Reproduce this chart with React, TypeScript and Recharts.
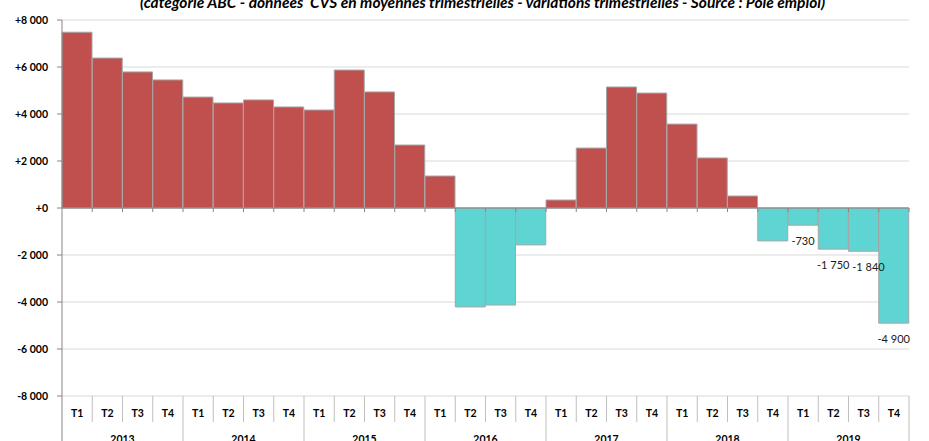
import { BarChart, Bar, XAxis, YAxis, CartesianGrid, ReferenceLine, Cell, LabelList } from 'recharts'

const years = ['2013', '2014', '2015', '2016', '2017', '2018', '2019']
const quarters = ['T1', 'T2', 'T3', 'T4']
// variations trimestrielles, 2013 T1 -> 2019 T4
const variations = [
  7480, 6380, 5790, 5450,
  4720, 4470, 4600, 4300,
  4170, 5870, 4940, 2680,
  1360, -4210, -4130, -1570,
  340, 2550, 5150, 4890,
  3570, 2130, 510, -1400,
  -730, -1750, -1840, -4900,
]
const labelledFrom = 24
const yTicks = [-8000, -6000, -4000, -2000, 0, 2000, 4000, 6000, 8000]

const title = '(catégorie ABC - données  CVS en moyennes trimestrielles - variations trimestrielles - Source : Pôle emploi)'

const W = 929
const H = 441
const TOP = 20
const PLOT_BOTTOM = 396
const PLOT_H = PLOT_BOTTOM - TOP
const FONT = 'Lato, "Open Sans", sans-serif'

const data = variations.map((v, i) => ({
  key: `${years[Math.floor(i / 4)]}-${quarters[i % 4]}`,
  q: quarters[i % 4],
  year: years[Math.floor(i / 4)],
  v,
}))

const thousands = (n: number) => String(Math.abs(n)).replace(/\B(?=(\d{3})+(?!\d))/g, ' ')
const fmtTick = (n: number) => (n > 0 ? '+' + thousands(n) : n === 0 ? '+0' : '-' + thousands(n))
const fmtLabel = (n: number) => (n < 0 ? '-' : '') + thousands(n)

// eslint-disable-next-line @typescript-eslint/no-explicit-any
function QuarterTick(props: any) {
  const { x, y, payload } = props
  const i = payload.index
  const half = payload.offset ?? 15
  const right = x + half
  const zeroY = y - PLOT_H / 2
  const yearEnd = i % 4 === 3
  return (
    <g>
      <text x={x} y={y + 21} textAnchor="middle" fontSize={10.5} fontWeight="bold" fill="#000" fontFamily={FONT}>
        {data[i].q}
      </text>
      <line x1={right} x2={right} y1={y} y2={yearEnd ? y + 60 : y + 26} stroke="#BFBFBF" />
      <line x1={right} x2={right} y1={zeroY} y2={zeroY + 4} stroke="#868686" />
      {i % 4 === 1 && (
        <text x={right} y={y + 47} textAnchor="middle" fontSize={10.5} fontWeight="bold" fill="#000" fontFamily={FONT}>
          {data[i].year}
        </text>
      )}
    </g>
  )
}

// eslint-disable-next-line @typescript-eslint/no-explicit-any
function EndLabel(props: any) {
  const { x, y, width, height, value, index } = props
  if (index < labelledFrom) return null
  const bottom = Math.max(y, y + height)
  // Excel nudges the crowded label a little to the right
  const dx = index === labelledFrom + 2 ? 5 : 0
  return (
    <text x={x + width / 2 + dx} y={bottom + 20} textAnchor="middle" fontSize={11} fill="#1a1a1a" fontFamily={FONT}>
      {fmtLabel(value)}
    </text>
  )
}

export default function App() {
  return (
    <div style={{ position: 'absolute', left: 0, top: 0, width: W, height: H, overflow: 'hidden', background: '#fff', fontFamily: FONT }}>
      <div
        style={{
          position: 'absolute', left: 140, top: -6, whiteSpace: 'pre',
          fontSize: 15.5, fontWeight: 'bold', fontStyle: 'italic', lineHeight: '16px', color: '#000',
        }}
      >
        {title}
      </div>
      <BarChart
        width={W}
        height={H}
        data={data}
        margin={{ top: TOP, right: 20, bottom: 0, left: 0 }}
        barCategoryGap={0}
        barGap={0}
      >
        <CartesianGrid vertical={false} stroke="#D9D9D9" />
        <YAxis
          domain={[-8000, 8000]}
          ticks={yTicks}
          tickFormatter={fmtTick}
          width={62}
          allowDataOverflow
          axisLine={{ stroke: '#868686' }}
          tickLine={{ stroke: '#868686' }}
          tickSize={5}
          tickMargin={9}
          tick={{ fontSize: 10.5, fontWeight: 'bold', fill: '#000', fontFamily: FONT }}
        />
        <XAxis
          dataKey="key"
          interval={0}
          axisLine={false}
          tickLine={false}
          tickSize={0}
          tickMargin={0}
          height={H - PLOT_BOTTOM}
          tick={<QuarterTick />}
        />
        <Bar dataKey="v" stroke="#A6A6A6" strokeWidth={1} isAnimationActive={false}>
          {data.map((d) => (
            <Cell key={d.key} fill={d.v >= 0 ? '#C0504D' : '#5FD5D3'} />
          ))}
          <LabelList dataKey="v" content={<EndLabel />} />
        </Bar>
        <ReferenceLine y={0} stroke="#868686" />
      </BarChart>
      <svg width={W} height={H} style={{ position: 'absolute', left: 0, top: 0, pointerEvents: 'none' }}>
        <line x1={62} x2={62} y1={PLOT_BOTTOM} y2={H} stroke="#868686" />
      </svg>
    </div>
  )
}
